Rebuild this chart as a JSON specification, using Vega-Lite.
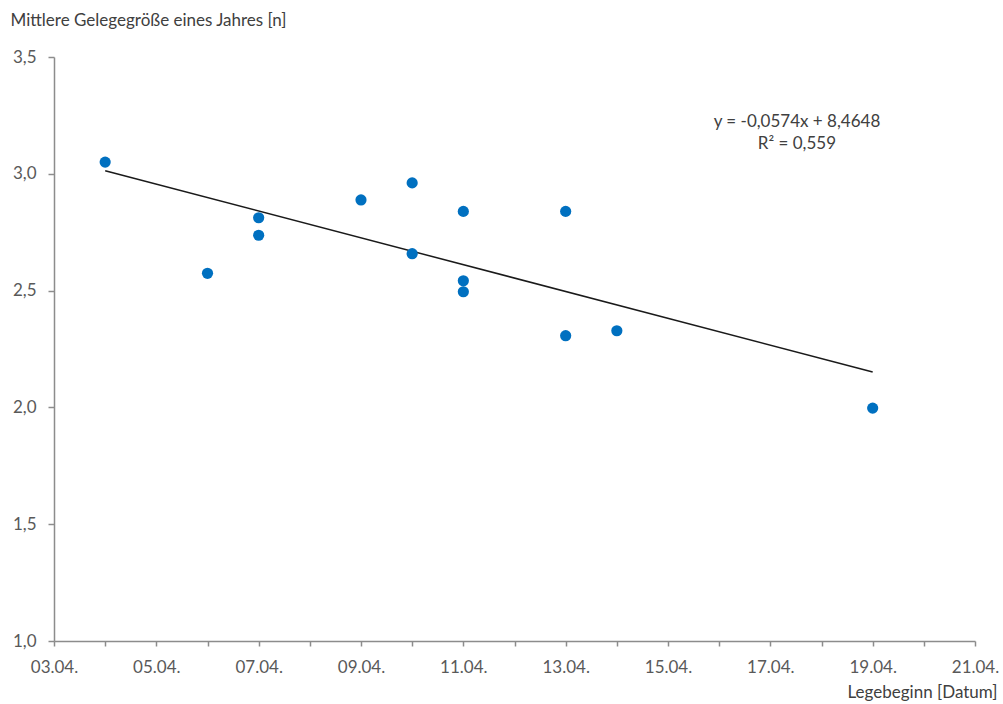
{
  "$schema": "https://vega.github.io/schema/vega-lite/v6.json",
  "width": 921,
  "height": 584,
  "autosize": {"type": "none"},
  "padding": {"left": 54, "top": 57, "right": 28, "bottom": 63},
  "background": "white",
  "config": {
    "view": {"stroke": null},
    "font": "Lato",
    "axis": {
      "domainColor": "#8c8c8c",
      "tickColor": "#8c8c8c",
      "labelColor": "#595959",
      "titleColor": "#404040",
      "labelFont": "Lato",
      "titleFont": "Lato",
      "labelFontSize": 17,
      "titleFontSize": 17,
      "titleFontWeight": "normal",
      "grid": false,
      "domainWidth": 1.5,
      "tickWidth": 1.5
    }
  },
  "datasets": {
    "points": [
      {"tag": 4, "n": 3.05},
      {"tag": 6, "n": 2.574},
      {"tag": 7, "n": 2.812},
      {"tag": 7, "n": 2.737},
      {"tag": 9, "n": 2.888},
      {"tag": 10, "n": 2.961},
      {"tag": 10, "n": 2.658},
      {"tag": 11, "n": 2.839},
      {"tag": 11, "n": 2.542},
      {"tag": 11, "n": 2.495},
      {"tag": 13, "n": 2.839},
      {"tag": 13, "n": 2.307},
      {"tag": 14, "n": 2.328},
      {"tag": 19, "n": 1.997}
    ],
    "trend": [
      {"tag": 4, "n": 3.0128},
      {"tag": 19, "n": 2.1518}
    ],
    "note": [
      {"tag": 17.52, "n": 3.223, "label": ["y = -0,0574x + 8,4648", "R² = 0,559"]}
    ]
  },
  "encoding": {
    "x": {
      "field": "tag",
      "type": "quantitative",
      "scale": {"domain": [3, 21], "nice": false, "zero": false},
      "axis": {
        "title": "Legebeginn [Datum]",
        "values": [3, 4, 5, 6, 7, 8, 9, 10, 11, 12, 13, 14, 15, 16, 17, 18, 19, 20, 21],
        "labelExpr": "datum.value % 2 == 1 ? ((datum.value < 10 ? '0' : '') + datum.value + '.04.') : ''",
        "tickSize": 5,
        "labelPadding": 13,
        "labelFlush": false,
        "labelOverlap": false,
        "titleAlign": "right",
        "titleAnchor": null,
        "titleX": 943,
        "titleY": 51,
        "titleBaseline": "middle"
      }
    },
    "y": {
      "field": "n",
      "type": "quantitative",
      "scale": {"domain": [1, 3.5], "nice": false, "zero": false},
      "axis": {
        "title": "Mittlere Gelegegröße eines Jahres [n]",
        "values": [1, 1.5, 2, 2.5, 3, 3.5],
        "labelExpr": "replace(format(datum.value, '.1f'), '.', ',')",
        "tickSize": 6,
        "labelPadding": 12,
        "labelFlush": false,
        "titleAngle": 0,
        "titleAlign": "left",
        "titleAnchor": null,
        "titleX": -44,
        "titleY": -37,
        "titleBaseline": "middle"
      }
    }
  },
  "layer": [
    {
      "data": {"name": "trend"},
      "mark": {"type": "line", "color": "#1a1a1a", "strokeWidth": 1.5}
    },
    {
      "data": {"name": "points"},
      "mark": {"type": "circle", "color": "#0070C0", "opacity": 1, "size": 125}
    },
    {
      "data": {"name": "note"},
      "mark": {"type": "text", "font": "Lato", "fontSize": 17, "color": "#404040", "align": "center", "baseline": "middle", "lineHeight": 22},
      "encoding": {"text": {"field": "label"}}
    }
  ]
}
